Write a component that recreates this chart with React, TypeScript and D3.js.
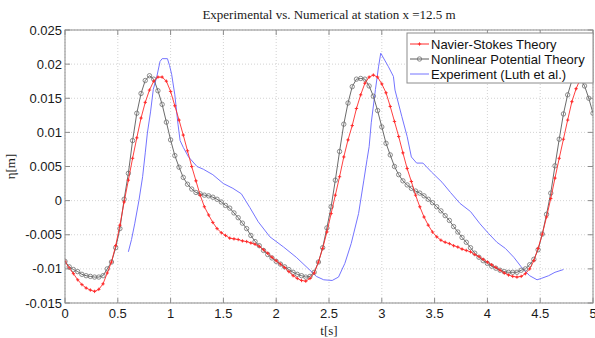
import React from "react";
import * as d3 from "d3";

const TITLE = "Experimental vs. Numerical at station x =12.5 m";
const X_TICKS = [0, 0.5, 1, 1.5, 2, 2.5, 3, 3.5, 4, 4.5, 5];
const X_TICK_LABELS = ["0", "0.5", "1", "1.5", "2", "2.5", "3", "3.5", "4", "4.5", "5"];
const Y_TICKS = [-0.015, -0.01, -0.005, 0, 0.005, 0.01, 0.015, 0.02, 0.025];
const Y_TICK_LABELS = ["-0.015", "-0.01", "-0.005", "0", "0.005", "0.01", "0.015", "0.02", "0.025"];
const SERIES_NAMES = ["Navier-Stokes Theory", "Nonlinear Potential Theory", "Experiment (Luth et al.)"];

const TIME = [
  0.0, 0.04, 0.08, 0.12, 0.16, 0.2, 0.24, 0.28, 0.32, 0.36, 0.4, 0.44, 0.48, 0.52, 0.56, 0.6,
  0.64, 0.68, 0.72, 0.76, 0.8, 0.84, 0.88, 0.92, 0.96, 1.0, 1.04, 1.08, 1.12, 1.16, 1.2, 1.24,
  1.28, 1.32, 1.36, 1.4, 1.44, 1.48, 1.52, 1.56, 1.6, 1.64, 1.68, 1.72, 1.76, 1.8, 1.84, 1.88,
  1.92, 1.96, 2.0, 2.04, 2.08, 2.12, 2.16, 2.2, 2.24, 2.28, 2.32, 2.36, 2.4, 2.44, 2.48, 2.52,
  2.56, 2.6, 2.64, 2.68, 2.72, 2.76, 2.8, 2.84, 2.88, 2.92, 2.96, 3.0, 3.04, 3.08, 3.12, 3.16,
  3.2, 3.24, 3.28, 3.32, 3.36, 3.4, 3.44, 3.48, 3.52, 3.56, 3.6, 3.64, 3.68, 3.72, 3.76, 3.8,
  3.84, 3.88, 3.92, 3.96, 4.0, 4.04, 4.08, 4.12, 4.16, 4.2, 4.24, 4.28, 4.32, 4.36, 4.4, 4.44,
  4.48, 4.52, 4.56, 4.6, 4.64, 4.68, 4.72, 4.76, 4.8, 4.84, 4.88, 4.92, 4.96, 5.0,
];

const NAVIER_STOKES = [
  -0.0089, -0.0099, -0.0107, -0.0116, -0.0123, -0.0128, -0.0131, -0.0133, -0.013, -0.0122, -0.0106, -0.009, -0.0066, -0.0036, -0.0002, 0.003,
  0.0062, 0.0092, 0.0121, 0.0144, 0.0162, 0.0175, 0.0181, 0.0181, 0.0175, 0.016, 0.0139, 0.0118, 0.0096, 0.0073, 0.005, 0.0029,
  0.0008, -0.0009, -0.0021, -0.0032, -0.0041, -0.0047, -0.0051, -0.0055, -0.0056, -0.0057, -0.0059, -0.006, -0.0062, -0.0064, -0.0067, -0.0072,
  -0.0077, -0.0083, -0.0088, -0.0093, -0.0098, -0.0104, -0.011, -0.0114, -0.0117, -0.0118, -0.0114, -0.0106, -0.009, -0.007, -0.0046, -0.0019,
  0.0008, 0.0035, 0.0064, 0.0089, 0.011, 0.0135, 0.0155, 0.0172, 0.0181, 0.0184, 0.0181, 0.0171, 0.0158, 0.0138, 0.0116, 0.0094,
  0.007, 0.0047, 0.0028, 0.0008, -0.0009, -0.0024, -0.0036, -0.0046, -0.0053, -0.0058, -0.0061, -0.0063, -0.0066, -0.0068, -0.0071, -0.0073,
  -0.0075, -0.0079, -0.0082, -0.0086, -0.009, -0.0094, -0.0098, -0.0102, -0.0106, -0.0109, -0.0111, -0.0112, -0.0111, -0.0107, -0.01, -0.0088,
  -0.007, -0.0049, -0.0024, 0.0003, 0.0033, 0.0062, 0.009, 0.0118, 0.0145, 0.0164, 0.0178, 0.0183, 0.0182, 0.0177,
];

const NONLINEAR_POTENTIAL = [
  -0.0089, -0.0097, -0.0101, -0.0104, -0.0108, -0.011, -0.0111, -0.0112, -0.0112, -0.011, -0.01, -0.009, -0.0069, -0.0041, 0.0002, 0.004,
  0.0088, 0.0128, 0.0157, 0.0176, 0.0183, 0.0178, 0.0161, 0.0141, 0.0115, 0.0089, 0.0066, 0.0049, 0.0034, 0.0024, 0.0017, 0.0012,
  0.001, 0.0008, 0.0007, 0.0005, 0.0002, -0.0002, -0.0007, -0.0011, -0.0018, -0.0025, -0.0033, -0.0041, -0.0051, -0.006, -0.0066, -0.0073,
  -0.0079, -0.0084, -0.0089, -0.0093, -0.0097, -0.0101, -0.0105, -0.0108, -0.011, -0.0112, -0.0111, -0.0105, -0.009, -0.0069, -0.004, -0.0009,
  0.003, 0.0072, 0.0112, 0.0143, 0.0167, 0.0178, 0.0179, 0.0178, 0.0168, 0.0153, 0.0132, 0.0108, 0.0084, 0.0067, 0.005, 0.0038,
  0.0029, 0.0023, 0.0018, 0.0014, 0.0011, 0.0007, 0.0002, -0.0003, -0.0009, -0.0015, -0.0022, -0.0029, -0.0038, -0.0046, -0.0054, -0.0061,
  -0.0069, -0.0077, -0.0083, -0.0088, -0.0092, -0.0096, -0.0099, -0.0102, -0.0104, -0.0105, -0.0105, -0.0105, -0.0102, -0.01, -0.0094, -0.0086,
  -0.0072, -0.0049, -0.002, 0.0011, 0.0051, 0.009, 0.0127, 0.0155, 0.0176, 0.0182, 0.0178, 0.0168, 0.015, 0.0128,
];

const EXP_TIME = [
  0.6, 0.63, 0.66, 0.7, 0.735, 0.76, 0.78, 0.81, 0.836, 0.87, 0.9, 0.92, 0.97, 0.99, 1.01, 1.04,
  1.07, 1.09, 1.12, 1.17, 1.25, 1.31, 1.4, 1.5, 1.59, 1.67, 1.75, 1.83, 1.94, 2.07, 2.19, 2.32,
  2.38, 2.45, 2.53, 2.59, 2.65, 2.71, 2.78, 2.83, 2.86, 2.88, 2.9, 2.94, 2.97, 2.99, 3.06, 3.11,
  3.125, 3.19, 3.24, 3.28, 3.33, 3.39, 3.47, 3.57, 3.65, 3.74, 3.84, 3.93, 4.01, 4.09, 4.17, 4.25,
  4.32, 4.4, 4.47, 4.51, 4.58, 4.64, 4.72,
];
const EXPERIMENT = [
  -0.0075, -0.0057, -0.0034, 0.0, 0.0035, 0.007, 0.0099, 0.013, 0.0163, 0.0182, 0.0204, 0.0208, 0.0208, 0.0198, 0.0185, 0.0155,
  0.0112, 0.0088, 0.0078, 0.0064, 0.005, 0.0046, 0.0038, 0.0025, 0.0018, 0.001, -0.001, -0.0031, -0.0053, -0.0068, -0.0083, -0.0102,
  -0.0111, -0.0116, -0.0117, -0.0112, -0.0092, -0.0063, -0.0019, 0.003, 0.006, 0.0079, 0.0114, 0.0163, 0.0197, 0.0216, 0.0197, 0.0182,
  0.0162, 0.0123, 0.0094, 0.0064, 0.0055, 0.0055, 0.0042, 0.0027, 0.0012, -0.0004, -0.0016, -0.0034, -0.0048, -0.0061, -0.007, -0.0083,
  -0.0097, -0.011, -0.0116, -0.0114, -0.011, -0.0105, -0.0101,
];

const W = 595;
const H = 338;
const M = { left: 65, right: 2, top: 30, bottom: 35 };
const SANS = "'Liberation Sans', Arial, Helvetica, sans-serif";
const SERIF = "'Liberation Serif', 'Times New Roman', serif";
const RED = "#ff2a2a";
const GREY = "#5a5a5a";
const BLUE = "#7474ff";

export default function App() {
  const x = d3.scaleLinear().domain([0, 5]).range([M.left, W - M.right]);
  const y = d3.scaleLinear().domain([-0.015, 0.025]).range([H - M.bottom, M.top]);
  const [x0, x1] = x.range();
  const [y0, y1] = y.range();

  const ns = TIME.map((t, i) => [t, NAVIER_STOKES[i]] as [number, number]);
  const np = TIME.map((t, i) => [t, NONLINEAR_POTENTIAL[i]] as [number, number]);
  const ex = EXP_TIME.map((t, i) => [t, EXPERIMENT[i]] as [number, number]);
  const line = d3
    .line<[number, number]>()
    .x((d) => x(d[0]))
    .y((d) => y(d[1]));

  const tickLen = 5;
  const axisColor = "#8c8c8c";

  const lgX = 407;
  const lgY = 33;
  const lgW = 186;
  const lgH = 50;
  const rowY = [44, 59, 74];

  const plus = (cx: number, cy: number, key: string | number, s = 1.7) => (
    <g key={key}>
      <line x1={cx - s} x2={cx + s} y1={cy} y2={cy} stroke={RED} strokeWidth={0.9} />
      <line x1={cx} x2={cx} y1={cy - s} y2={cy + s} stroke={RED} strokeWidth={0.9} />
      <circle cx={cx} cy={cy} r={0.8} fill={RED} />
    </g>
  );

  return (
    <svg width={W} height={H} style={{ display: "block", position: "absolute", left: 0, top: 0, background: "#fff" }}>
      <defs>
        <clipPath id="plotclip">
          <rect x={x0} y={y1} width={x1 - x0} height={y0 - y1} />
        </clipPath>
      </defs>
      <rect x={0} y={0} width={W} height={H} fill="#fff" />
      {/* grid */}
      {X_TICKS.map((t) => (
        <line key={"gx" + t} x1={x(t)} x2={x(t)} y1={y1} y2={y0} stroke="#c8c8c8" strokeWidth={0.8} strokeDasharray="1,2" />
      ))}
      {Y_TICKS.map((t) => (
        <line key={"gy" + t} x1={x0} x2={x1} y1={y(t)} y2={y(t)} stroke="#c8c8c8" strokeWidth={0.8} strokeDasharray="1,2" />
      ))}
      {/* series */}
      <g clipPath="url(#plotclip)">
        <path d={line(ex) || ""} fill="none" stroke={BLUE} strokeWidth={1} />
        <path d={line(np) || ""} fill="none" stroke={GREY} strokeWidth={0.9} />
        {np.map((d, i) => (
          <circle key={"np" + i} cx={x(d[0])} cy={y(d[1])} r={2.2} fill="none" stroke="#707070" strokeWidth={0.8} />
        ))}
        <path d={line(ns) || ""} fill="none" stroke={RED} strokeWidth={0.9} />
        {ns.map((d, i) => plus(x(d[0]), y(d[1]), "ns" + i))}
      </g>
      {/* axes box */}
      <rect x={x0} y={y1} width={x1 - x0} height={y0 - y1} fill="none" stroke={axisColor} strokeWidth={1} />
      {X_TICKS.map((t) => (
        <g key={"tx" + t}>
          <line x1={x(t)} x2={x(t)} y1={y0} y2={y0 - tickLen} stroke={axisColor} />
          <line x1={x(t)} x2={x(t)} y1={y1} y2={y1 + tickLen} stroke={axisColor} />
        </g>
      ))}
      {Y_TICKS.map((t) => (
        <g key={"ty" + t}>
          <line x1={x0} x2={x0 + tickLen} y1={y(t)} y2={y(t)} stroke={axisColor} />
          <line x1={x1} x2={x1 - tickLen} y1={y(t)} y2={y(t)} stroke={axisColor} />
        </g>
      ))}
      {/* tick labels */}
      {X_TICKS.map((t, i) => (
        <text key={"lx" + t} x={x(t)} y={y0 + 14.5} textAnchor="middle" fontFamily={SANS} fontSize={13} fill="#1a1a1a">
          {X_TICK_LABELS[i]}
        </text>
      ))}
      {Y_TICKS.map((t, i) => (
        <text key={"ly" + t} x={x0 - 3} y={y(t) + 4.5} textAnchor="end" fontFamily={SANS} fontSize={13} fill="#1a1a1a">
          {Y_TICK_LABELS[i]}
        </text>
      ))}
      {/* axis titles */}
      <text x={(x0 + x1) / 2} y={H - 3} textAnchor="middle" fontFamily={SERIF} fontSize={13} fill="#1a1a1a">
        t[s]
      </text>
      <text
        transform={`translate(15, ${(y0 + y1) / 2}) rotate(-90)`}
        textAnchor="middle"
        fontFamily={SERIF}
        fontSize={13}
        fill="#1a1a1a"
      >
        η[m]
      </text>
      <text x={(x0 + x1) / 2} y={19} textAnchor="middle" fontFamily={SERIF} fontSize={13} fill="#1a1a1a">
        {TITLE}
      </text>
      {/* legend */}
      <rect x={lgX} y={lgY} width={lgW} height={lgH} fill="#fff" stroke={axisColor} strokeWidth={1} />
      {SERIES_NAMES.map((name, i) => {
        const cy = rowY[i];
        const color = i === 0 ? RED : i === 1 ? GREY : BLUE;
        return (
          <g key={name}>
            <line x1={410} x2={429} y1={cy} y2={cy} stroke={color} strokeWidth={1} />
            {i === 0 && plus(419.5, cy, "lgp")}
            {i === 1 && <circle cx={419.5} cy={cy} r={2.2} fill="none" stroke="#707070" strokeWidth={0.8} />}
            <text x={431} y={cy + 4.5} fontFamily={SANS} fontSize={13} fill="#111">
              {name}
            </text>
          </g>
        );
      })}
    </svg>
  );
}
